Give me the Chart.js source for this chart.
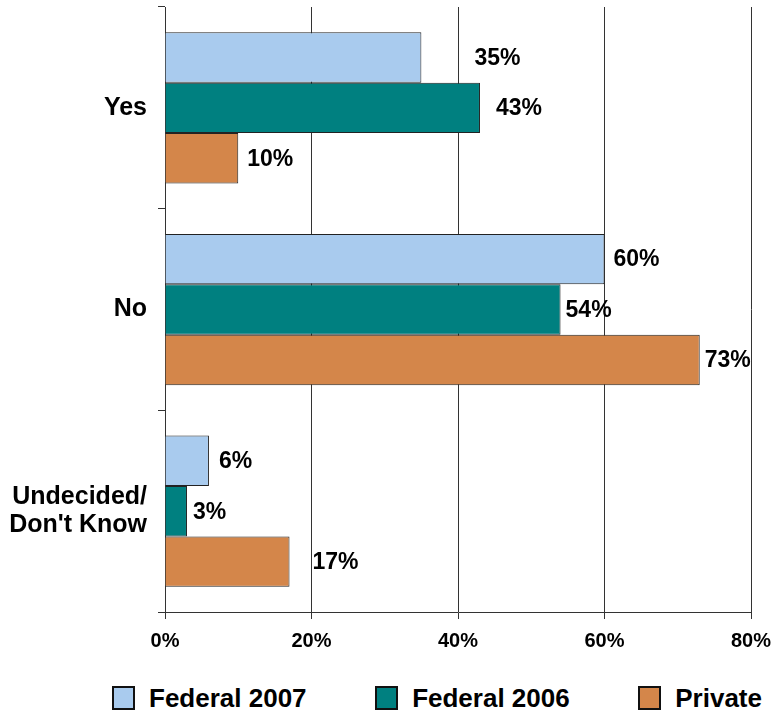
<!DOCTYPE html>
<html>
<head>
<meta charset="utf-8">
<script src="https://cdn.jsdelivr.net/npm/chart.js@4"></script>
<style>
  body { margin: 0; background: #fff; }
  #wrap { position: relative; width: 771px; height: 712px; }
  #chartBox { position: absolute; left: 0; top: 0; width: 771px; height: 663px; }
  #legend {
    position: absolute; left: 0; top: 686px; width: 771px; height: 24px;
    box-sizing: border-box; padding: 0 9px 0 112px;
    display: flex; justify-content: space-between; align-items: center;
    font: bold 26px "Liberation Sans", Arial, sans-serif; color: #000;
  }
  .item { display: flex; align-items: center; white-space: nowrap; }
  .swatch { width: 19px; height: 20px; border: 2px solid #111; margin-right: 14px; }
</style>
</head>
<body>
<div id="wrap">
  <div id="chartBox"><canvas id="surveyChart"></canvas></div>
  <div id="legend"></div>
</div>
<script>
// Kategorien und Werte (in Prozent)
const categories = ['Yes', 'No', ['Undecided/', "Don't Know"]];
const seriesNames = ['Federal 2007', 'Federal 2006', 'Private'];
const federal2007 = [35, 60, 6];
const federal2006 = [43, 54, 3];
const privateVals = [10, 73, 17];
const xTicks = [0, 20, 40, 60, 80];

const colors = ['#a9cbee', '#008080', '#d4864a'];
// kleine Verschiebungen der Werte-Labels wie im Original
const labelNudge = [[47, 3, 4], [10, -1, 0], [3, -1, 17]];

const fontFamily = '"Liberation Sans", Arial, sans-serif';

const datasets = [federal2007, federal2006, privateVals].map((values, i) => ({
    label: seriesNames[i],
    data: values,
    backgroundColor: colors[i],
    borderColor: '#222',
    borderWidth: 1,
    borderSkipped: 'start',
    categoryPercentage: 0.75,
    barPercentage: 1.0,
}));

// Werte-Labels rechts neben den Balken
const valueLabels = {
    id: 'valueLabels',
    afterDatasetsDraw(chart) {
        const ctx = chart.ctx;
        ctx.save();
        ctx.font = 'bold 23px ' + fontFamily;
        ctx.fillStyle = '#000';
        ctx.textAlign = 'left';
        ctx.textBaseline = 'middle';
        chart.data.datasets.forEach((ds, di) => {
            const meta = chart.getDatasetMeta(di);
            meta.data.forEach((bar, i) => {
                const x = bar.x + 6 + labelNudge[di][i];
                ctx.fillText(ds.data[i] + '%', x, bar.y + 1);
            });
        });
        ctx.restore();
    }
};

const config = {
    type: 'bar',
    data: { labels: categories, datasets: datasets },
    options: {
        indexAxis: 'y',
        responsive: true,
        maintainAspectRatio: false,
        animation: false,
        layout: { padding: { top: 7, right: 0, bottom: 0, left: 0 } },
        scales: {
            x: {
                min: 0,
                max: 80,
                afterBuildTicks: (scale) => {
                    scale.ticks = xTicks.map(v => ({ value: v }));
                },
                afterFit: (scale) => {
                    scale.paddingLeft = 0;
                    scale.paddingRight = 20;
                },
                grid: {
                    color: '#333',
                    lineWidth: 1,
                    tickLength: 7,
                    drawOnChartArea: true,
                },
                border: { display: true, color: '#333', width: 1 },
                ticks: {
                    color: '#000',
                    padding: 10,
                    maxRotation: 0,
                    font: { family: fontFamily, size: 20, weight: 'bold' },
                    callback: (v) => v + '%',
                },
            },
            y: {
                afterFit: (scale) => {
                    scale.width = 165;
                    scale.paddingTop = 0;
                    scale.paddingBottom = 0;
                },
                grid: {
                    offset: true,
                    drawOnChartArea: false,
                    drawTicks: true,
                    tickLength: 7,
                    color: '#333',
                },
                border: { display: true, color: '#333', width: 1 },
                ticks: {
                    color: '#000',
                    padding: 11,
                    font: { family: fontFamily, size: 25, weight: 'bold', lineHeight: 1.12 },
                },
            },
        },
        plugins: {
            legend: { display: false },
            tooltip: { enabled: false },
        },
    },
    plugins: [valueLabels],
};

const chart = new Chart(document.getElementById('surveyChart'), config);

// Legende unten als HTML
const legendEl = document.getElementById('legend');
chart.data.datasets.forEach((ds) => {
    const item = document.createElement('div');
    item.className = 'item';
    const sw = document.createElement('span');
    sw.className = 'swatch';
    sw.style.background = ds.backgroundColor;
    item.appendChild(sw);
    item.appendChild(document.createTextNode(ds.label));
    legendEl.appendChild(item);
});
</script>
</body>
</html>
